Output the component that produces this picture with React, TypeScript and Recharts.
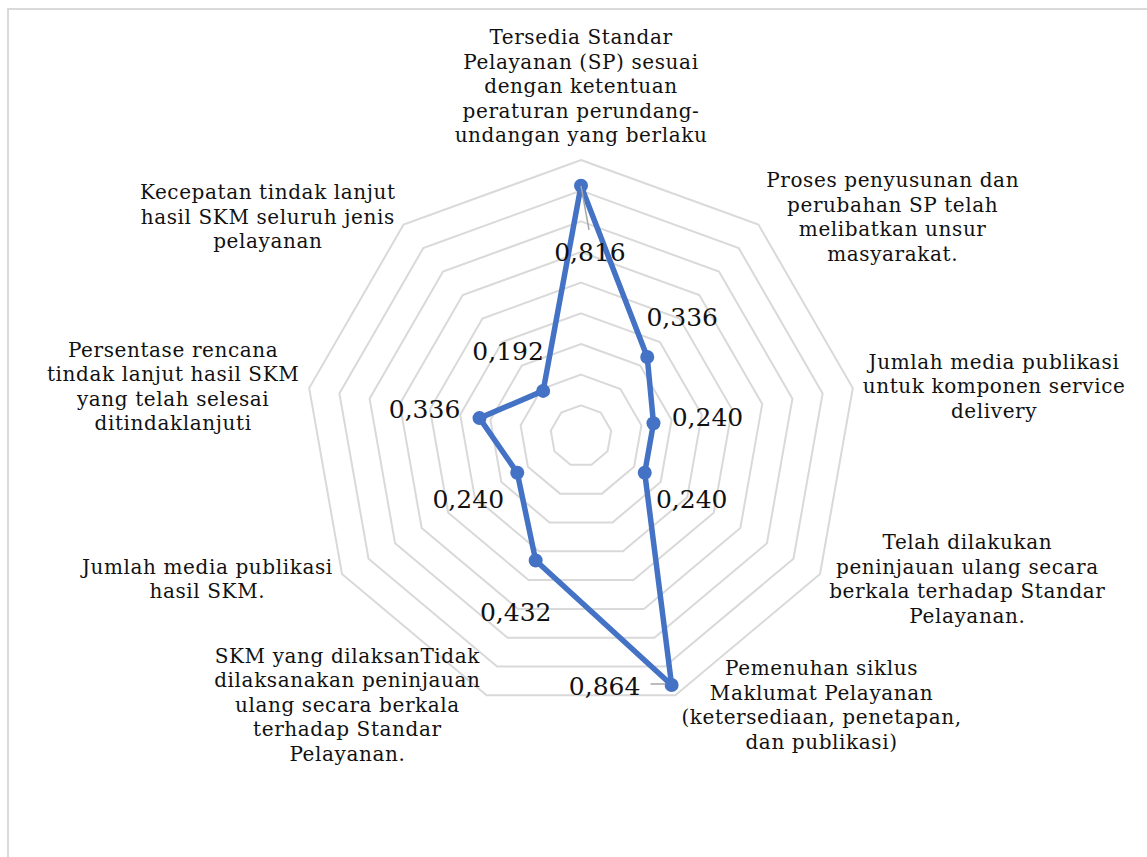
import React from "react";
import { PolarAngleAxis, PolarGrid, PolarRadiusAxis, Radar, RadarChart } from "recharts";

const CATEGORIES: string[][] = [
  ["Tersedia Standar", "Pelayanan (SP) sesuai", "dengan ketentuan", "peraturan perundang-", "undangan yang berlaku"],
  ["Proses penyusunan dan", "perubahan SP telah", "melibatkan unsur", "masyarakat."],
  ["Jumlah media publikasi", "untuk komponen service", "delivery"],
  ["Telah dilakukan", "peninjauan ulang secara", "berkala terhadap Standar", "Pelayanan."],
  ["Pemenuhan siklus", "Maklumat Pelayanan", "(ketersediaan, penetapan,", "dan publikasi)"],
  ["SKM yang dilaksanTidak", "dilaksanakan peninjauan", "ulang secara berkala", "terhadap Standar", "Pelayanan."],
  ["Jumlah media publikasi", "hasil SKM."],
  ["Persentase rencana", "tindak lanjut hasil SKM", "yang telah selesai", "ditindaklanjuti"],
  ["Kecepatan tindak lanjut", "hasil SKM seluruh jenis", "pelayanan"],
];

const VALUES = [0.816, 0.336, 0.24, 0.24, 0.864, 0.432, 0.24, 0.336, 0.192];

// grid rings drawn by Excel (axis max 0,9)
const RING_VALUES = [0, 0.1, 0.2, 0.3, 0.4, 0.5, 0.6, 0.7, 0.8, 0.9];
const RADIUS_DOMAIN: [number, number] = [0, 1];

// layout
const W = 1147;
const H = 857;
const CX = 581;
const CY = 436;
const R = 276; // radius of the 0,9 ring
const R_FULL = (R / RING_VALUES[RING_VALUES.length - 1]) * RADIUS_DOMAIN[1];
const BLUE = "#4472C4";
const FONT = "'DejaVu Serif', 'Liberation Serif', serif";
const CAT_SIZE = 20;
const CAT_SPACING = 0.6;
const LH = 24.5;
const VAL_SIZE = 25;

// where Excel dropped each value label, relative to its point
const VALUE_LABEL_SHIFT: [number, number][] = [
  [9, 67], [35, -40], [54, -6], [47, 27], [-67, 2], [-20, 52], [-49, 27], [-55, -9], [-35, -39],
];

const data = CATEGORIES.map((lines, i) => ({ name: lines.join(" "), value: VALUES[i] }));

let ctx: CanvasRenderingContext2D | null = null;
function measure(text: string, size: number, spacing: number) {
  if (!ctx) ctx = document.createElement("canvas").getContext("2d");
  if (!ctx) return text.length * size * 0.6;
  ctx.font = `${size}px 'DejaVu Serif'`;
  return ctx.measureText(text).width + text.length * spacing;
}

function CategoryTick(props: any) {
  const name = props.payload?.value;
  const idx = data.findIndex((d) => d.name === name);
  if (idx < 0) return null;
  const lines = CATEGORIES[idx];
  const a = (idx * 2 * Math.PI) / CATEGORIES.length;
  const sin = Math.sin(a);
  const cos = Math.cos(a);
  const vx = CX + R * sin;
  const vy = CY - R * cos;
  const w = Math.max(...lines.map((l) => measure(l, CAT_SIZE, CAT_SPACING)));
  let bx = vx;
  let by = vy;
  if (idx === 0) {
    by = vy - 25 - ((lines.length - 1) * LH) / 2;
  } else {
    const s = Math.sign(sin);
    const edge = vx + s * (4 + 6 * Math.abs(sin));
    bx = edge + (s * w) / 2;
    by = vy - cos * 10;
  }
  return (
    <text fontFamily={FONT} fontSize={CAT_SIZE} letterSpacing={CAT_SPACING} fill="#111" textAnchor="middle">
      {lines.map((l, j) => (
        <tspan key={j} x={bx} y={by + (j - (lines.length - 1) / 2) * LH} dominantBaseline="central">
          {l}
        </tspan>
      ))}
    </text>
  );
}

function ValueLabel(props: any) {
  const idx = props.index ?? 0;
  const x = props.x ?? props.viewBox?.x;
  const y = props.y ?? props.viewBox?.y;
  if (x == null || y == null) return null;
  const [dx, dy] = VALUE_LABEL_SHIFT[idx] ?? [0, 0];
  const txt = Number(props.value).toFixed(3).replace(".", ",");
  let leader = null;
  if (idx === 0) leader = <line x1={x} y1={y} x2={x + 8} y2={y + 44} stroke="#a6a6a6" strokeWidth={1.5} />;
  if (idx === 4) leader = <line x1={x - 21} y1={y - 1} x2={x - 6} y2={y - 1} stroke="#a6a6a6" strokeWidth={1.5} />;
  return (
    <g>
      {leader}
      <text x={x + dx} y={y + dy} fontFamily={FONT} fontSize={VAL_SIZE} fill="#111" textAnchor="middle" dominantBaseline="central">
        {txt}
      </text>
    </g>
  );
}

const Dot = (p: any) => <circle key={p.index} cx={p.cx} cy={p.cy} r={7} fill={BLUE} />;

export default function App() {
  return (
    <div style={{ position: "absolute", left: 0, top: 0, width: W, height: H, overflow: "hidden", background: "#fff" }}>
      <div
        style={{
          position: "absolute",
          left: 7,
          top: 8,
          width: W + 20,
          height: H + 20,
          border: "2px solid #d9d9d9",
        }}
      />
      <div style={{ position: "absolute", left: 0, top: 0 }}>
        <RadarChart width={W} height={H} data={data} cx={CX} cy={CY} outerRadius={R_FULL} margin={{ top: 0, right: 0, bottom: 0, left: 0 }}>
          <PolarGrid
            gridType="polygon"
            radialLines={false}
            polarRadius={RING_VALUES.map((t) => ((t - RADIUS_DOMAIN[0]) / (RADIUS_DOMAIN[1] - RADIUS_DOMAIN[0])) * R_FULL)}
            stroke="#d9d9d9"
            strokeWidth={2}
          />
          <PolarAngleAxis dataKey="name" tick={<CategoryTick />} tickLine={false} axisLine={false} />
          <PolarRadiusAxis type="number" domain={RADIUS_DOMAIN} tick={false} axisLine={false} />
          <Radar
            dataKey="value"
            stroke={BLUE}
            strokeWidth={5.5}
            strokeLinejoin="round"
            fill="none"
            fillOpacity={0}
            dot={Dot}
            label={(p: any) => <ValueLabel {...p} />}
            isAnimationActive={false}
          />
        </RadarChart>
      </div>
    </div>
  );
}
